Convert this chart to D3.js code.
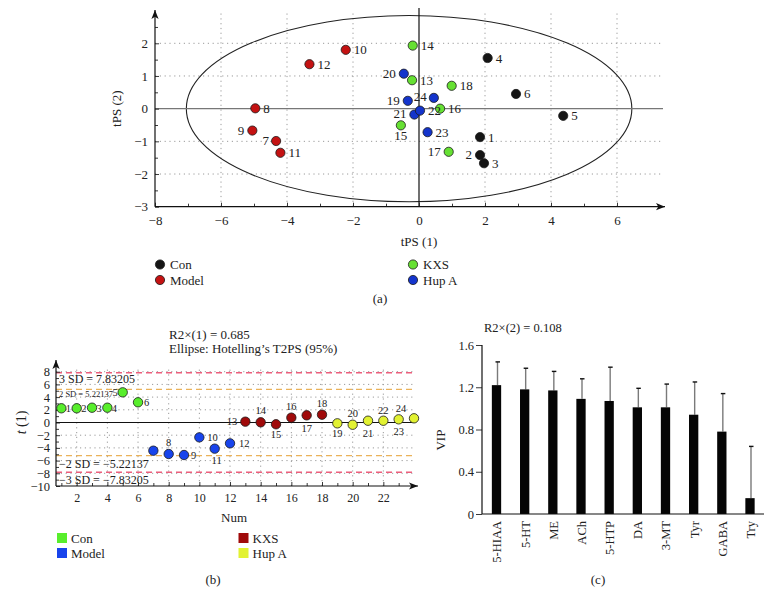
<!DOCTYPE html>
<html><head><meta charset="utf-8">
<script src="https://cdn.jsdelivr.net/npm/d3@7/dist/d3.min.js"></script>
<style>
body{margin:0;background:#fff}
text{font-family:'Liberation Serif','Times New Roman',serif;fill:#222}
</style>
</head><body>
<svg id="c" width="772" height="606"></svg>
<script>
// ---------- DATA ----------
const sampleIds = d3.range(1, 25);
const groupNames = ["Con", "Model", "KXS", "Hup A"];
// panel (a): PLS scores
const tps1 = [1.85, 1.85, 1.97, 2.08, 4.37, 2.94, -4.33, -4.96, -5.05, -2.22, -4.20, -3.32,
              -0.21, -0.19, -0.55, 0.64, 0.90, 0.99, -0.34, -0.46, -0.14, 0.03, 0.26, 0.45];
const tps2 = [-0.87, -1.42, -1.67, 1.55, -0.22, 0.45, -0.99, 0.01, -0.67, 1.80, -1.35, 1.36,
              0.87, 1.93, -0.51, 0.00, -1.32, 0.70, 0.24, 1.07, -0.18, -0.06, -0.72, 0.33];
const aXTicks = [-8, -6, -4, -2, 0, 2, 4, 6];
const aYTicks = [-3, -2, -1, 0, 1, 2];
// panel (b): t(1) by sample number
const t1 = [2.24, 2.24, 2.33, 2.33, 4.75, 3.18, -4.44, -4.96, -5.12, -2.34, -4.12, -3.28,
            0.13, 0.03, -0.28, 0.76, 1.13, 1.23, -0.13, -0.35, 0.28, 0.28, 0.50, 0.66];
const bXTicks = [2, 4, 6, 8, 10, 12, 14, 16, 18, 20, 22];
const bYTicks = [-10, -8, -6, -4, -2, 0, 2, 4, 6, 8];
const sdValues = [7.83205, 5.22137, -5.22137, -7.83205];
const sdLabels = ["3 SD = 7.83205", "2 SD = 5.22137", "\u22122 SD = \u22125.22137", "\u22123 SD = \u22127.83205"];
const bTitle = ["R2\u00d7(1) = 0.685", "Ellipse: Hotelling\u2019s T2PS (95%)"];
// panel (c): VIP
const vipCats = ["5-HIAA", "5-HT", "ME", "ACh", "5-HTP", "DA", "3-MT", "Tyr", "GABA", "Try"];
const vipVals = [1.22, 1.18, 1.17, 1.09, 1.07, 1.01, 1.01, 0.94, 0.78, 0.15];
const vipUpper = [1.44, 1.38, 1.35, 1.28, 1.39, 1.19, 1.23, 1.25, 1.14, 0.64];
const cYTicks = [0, 0.4, 0.8, 1.2, 1.6];
const cTitle = "R2\u00d7(2) = 0.108";

// ---------- STYLE ----------
const colA = ["#151515", "#c41212", "#66e033", "#1434cc"];
const colB = ["#58ee2c", "#1844ec", "#a00a0a", "#e2f232"];
const FONT = "'Liberation Serif','Times New Roman',serif";
const grp = id => Math.floor((id - 1) / 6);

const svg = d3.select("#c");
svg.append("rect").attr("width", 772).attr("height", 606).attr("fill", "#fff");
const defs = svg.append("defs");
defs.append("marker").attr("id", "arr").attr("viewBox", "0 0 10 10")
  .attr("refX", 10).attr("refY", 5).attr("markerWidth", 9).attr("markerHeight", 9)
  .attr("markerUnits", "userSpaceOnUse").attr("orient", "auto")
  .append("path").attr("d", "M0,1 L10,5 L0,9 L2.5,5 Z").attr("fill", "#111");

function styleAxis(g, size) {
  g.attr("font-family", FONT).attr("font-size", size);
  g.select(".domain").remove();
  g.selectAll(".tick line").attr("stroke", "#222").attr("stroke-width", 0.9);
  g.selectAll(".tick text").attr("fill", "#222");
}
const dotted = sel => sel.attr("stroke", "#9a9a9a").attr("stroke-width", 1).attr("stroke-dasharray", "1.2,3.6");

// ================= PANEL A =================
const ax = d3.scaleLinear().domain([-8, 6]).range([155, 617]);
const ay = d3.scaleLinear().domain([-3, 2]).range([206.7, 43.3]);
const A = svg.append("g");
[-6, -4, -2, 2, 4, 6].forEach(v => A.append("line").attr("x1", ax(v)).attr("x2", ax(v)).attr("y1", ay(-3)).attr("y2", 10).call(dotted));
[-2, -1, 1, 2].forEach(v => A.append("line").attr("x1", ax(-8)).attr("x2", 663).attr("y1", ay(v)).attr("y2", ay(v)).call(dotted));
A.append("ellipse").attr("cx", ax(-0.3)).attr("cy", ay(0))
  .attr("rx", ax(6.45) - ax(-0.3)).attr("ry", ay(0) - ay(2.85))
  .attr("fill", "none").attr("stroke", "#222").attr("stroke-width", 1.1);
A.append("line").attr("x1", ax(-8)).attr("x2", 663).attr("y1", ay(0)).attr("y2", ay(0)).attr("stroke", "#777").attr("stroke-width", 1.3);
A.append("line").attr("x1", ax(0)).attr("x2", ax(0)).attr("y1", ay(-3)).attr("y2", 8).attr("stroke", "#111").attr("stroke-width", 1.2);
A.append("g").attr("transform", `translate(0,${ay(-3)})`)
  .call(d3.axisBottom(ax).tickValues(aXTicks).tickSize(-4).tickPadding(9).tickFormat(d3.format("d"))).call(g => styleAxis(g, 13));
A.append("g").attr("transform", `translate(0,${ay(-3)})`)
  .call(d3.axisBottom(ax).tickValues([-7, -5, -3, -1, 1, 3, 5]).tickSize(-3).tickFormat("")).call(g => styleAxis(g, 13));
A.append("g").attr("transform", `translate(${ax(-8)},0)`)
  .call(d3.axisLeft(ay).tickValues(aYTicks).tickSize(-4).tickPadding(7).tickFormat(d3.format("d"))).call(g => styleAxis(g, 13));
A.append("g").attr("transform", `translate(${ax(-8)},0)`)
  .call(d3.axisLeft(ay).tickValues([-2.5, -1.5, -0.5, 0.5, 1.5, 2.5]).tickSize(-3).tickFormat("")).call(g => styleAxis(g, 13));
A.append("line").attr("x1", ax(-8)).attr("x2", ax(-8)).attr("y1", ay(-3)).attr("y2", 10).attr("stroke", "#111").attr("stroke-width", 1.2).attr("marker-end", "url(#arr)");
A.append("line").attr("x1", ax(-8)).attr("x2", 665).attr("y1", ay(-3)).attr("y2", ay(-3)).attr("stroke", "#111").attr("stroke-width", 1.2).attr("marker-end", "url(#arr)");
A.append("text").attr("x", ax(0)).attr("y", 246).attr("text-anchor", "middle").attr("font-size", 13).text("tPS (1)");
A.append("text").attr("transform", `translate(121,${ay(0)}) rotate(-90)`).attr("text-anchor", "middle").attr("font-size", 13).text("tPS (2)");
const aLab = {2: [-8, 4, "end"], 7: [-7, 4, "end"], 9: [-8, 4, "end"], 17: [-8, 4, "end"], 19: [-8, 4, "end"], 20: [-8, 4, "end"],
  21: [-8, 3, "end"], 24: [-7, 3, "end"], 15: [0, 15, "middle"]};
const aPts = A.append("g");
sampleIds.forEach((id, i) => {
  aPts.append("circle").attr("cx", ax(tps1[i])).attr("cy", ay(tps2[i])).attr("r", 4.6)
    .attr("fill", colA[grp(id)]).attr("stroke", "#1a1a1a").attr("stroke-width", 0.8);
});
sampleIds.forEach((id, i) => {
  const l = aLab[id] || [8, 4.5, "start"];
  aPts.append("text").attr("x", ax(tps1[i]) + l[0]).attr("y", ay(tps2[i]) + l[1]).attr("text-anchor", l[2])
    .attr("font-size", 13).text(id);
});
const legAPos = [[160, 264.5], [160, 280], [413, 264.5], [413, 280]];
groupNames.forEach((g, k) => {
  A.append("circle").attr("cx", legAPos[k][0]).attr("cy", legAPos[k][1]).attr("r", 4.6).attr("fill", colA[k]).attr("stroke", "#1a1a1a").attr("stroke-width", 0.8);
  A.append("text").attr("x", legAPos[k][0] + 10).attr("y", legAPos[k][1] + 4.5).attr("font-size", 13).text(g);
});
A.append("text").attr("x", 380).attr("y", 303).attr("text-anchor", "middle").attr("font-size", 13).text("(a)");

// ================= PANEL B =================
const bx = d3.scaleLinear().domain([0.65, 24]).range([56, 414]);
const by = d3.scaleLinear().domain([-10, 8]).range([486, 371.7]);
const B = svg.append("g");
bXTicks.forEach(v => B.append("line").attr("x1", bx(v)).attr("x2", bx(v)).attr("y1", by(-10)).attr("y2", 366).call(dotted));
[-8, -6, -4, -2, 2, 4, 6, 8].forEach(v => B.append("line").attr("x1", bx(0.65)).attr("x2", 414).attr("y1", by(v)).attr("y2", by(v)).call(dotted));
const sdCol = ["#ec5f7c", "#eab25a", "#eab25a", "#ec5f7c"];
sdValues.forEach((v, k) => B.append("line").attr("x1", bx(0.65)).attr("x2", 416).attr("y1", by(v)).attr("y2", by(v))
  .attr("stroke", sdCol[k]).attr("stroke-width", 1.3).attr("stroke-dasharray", "6,4"));
const sdFont = [12, 8.5, 12, 12];
const sdDy = [10, 8, 12.5, 11.5];
sdValues.forEach((v, k) => B.append("text").attr("x", 59).attr("y", by(v) + sdDy[k]).attr("font-size", sdFont[k]).text(sdLabels[k]));
B.append("line").attr("x1", bx(0.65)).attr("x2", 414).attr("y1", by(0)).attr("y2", by(0)).attr("stroke", "#111").attr("stroke-width", 1.2);
B.append("g").attr("transform", `translate(0,${by(-10)})`)
  .call(d3.axisBottom(bx).tickValues(bXTicks).tickSize(-4).tickPadding(7).tickFormat(d3.format("d"))).call(g => styleAxis(g, 12));
B.append("g").attr("transform", `translate(0,${by(-10)})`)
  .call(d3.axisBottom(bx).tickValues(d3.range(1, 24, 2)).tickSize(-3).tickFormat("")).call(g => styleAxis(g, 12));
B.append("g").attr("transform", `translate(${bx(0.65)},0)`)
  .call(d3.axisLeft(by).tickValues(bYTicks).tickSize(-4).tickPadding(6).tickFormat(d3.format("d"))).call(g => styleAxis(g, 12.5));
B.append("g").attr("transform", `translate(${bx(0.65)},0)`)
  .call(d3.axisLeft(by).tickValues(d3.range(-9, 8, 2)).tickSize(-3).tickFormat("")).call(g => styleAxis(g, 12));
B.append("line").attr("x1", bx(0.65)).attr("x2", bx(0.65)).attr("y1", by(-10)).attr("y2", 360).attr("stroke", "#111").attr("stroke-width", 1.2).attr("marker-end", "url(#arr)");
B.append("line").attr("x1", bx(0.65)).attr("x2", 418).attr("y1", by(-10)).attr("y2", by(-10)).attr("stroke", "#111").attr("stroke-width", 1.2).attr("marker-end", "url(#arr)");
bTitle.forEach((t, k) => B.append("text").attr("x", 169).attr("y", 339 + k * 14).attr("font-size", 13).text(t));
B.append("text").attr("x", 234).attr("y", 522).attr("text-anchor", "middle").attr("font-size", 13).text("Num");
B.append("text").attr("transform", `translate(26,${by(0)}) rotate(-90)`).attr("text-anchor", "middle").attr("font-size", 14)
  .html('<tspan font-style="italic">t</tspan> (1)');
const bLab = {1: [4.5, 4, "start"], 2: [4.5, 4, "start"], 3: [4.5, 4, "start"], 4: [4.5, 4, "start"], 5: [-5, 4, "end"], 6: [6, 4, "start"],
  8: [0, -8, "middle"], 9: [7, 4, "start"], 10: [8, 4, "start"], 11: [2, 15, "middle"], 12: [9, 4, "start"], 13: [-8, 3, "end"],
  14: [0, -8, "middle"], 15: [0, 14, "middle"], 16: [0, -8, "middle"], 17: [0, 17, "middle"], 18: [0, -8, "middle"],
  19: [0, 14, "middle"], 20: [0, -8, "middle"], 21: [0, 16, "middle"], 22: [0, -7, "middle"], 23: [0, 16, "middle"], 24: [-13, -6, "middle"]};
const bPts = B.append("g");
sampleIds.forEach((id, i) => bPts.append("circle").attr("cx", bx(id)).attr("cy", by(t1[i])).attr("r", 4.7)
  .attr("fill", colB[grp(id)]).attr("stroke", "#1a1a1a").attr("stroke-width", 0.8));
sampleIds.forEach((id, i) => {
  const l = bLab[id]; if (!l) return;
  bPts.append("text").attr("x", bx(id) + l[0]).attr("y", by(t1[i]) + l[1]).attr("text-anchor", l[2]).attr("font-size", 10.5).text(id);
});
const legBPos = [[57, 533], [57, 548], [238.5, 533], [238.5, 548]];
groupNames.forEach((g, k) => {
  B.append("rect").attr("x", legBPos[k][0]).attr("y", legBPos[k][1]).attr("width", 10).attr("height", 10).attr("fill", colB[k]);
  B.append("text").attr("x", legBPos[k][0] + 14).attr("y", legBPos[k][1] + 9.5).attr("font-size", 13).text(g);
});
B.append("text").attr("x", 213).attr("y", 584).attr("text-anchor", "middle").attr("font-size", 13).text("(b)");

// ================= PANEL C =================
const cx = d3.scalePoint().domain(vipCats).range([496.5, 750]);
const cy = d3.scaleLinear().domain([0, 1.6]).range([514, 345]);
const C = svg.append("g");
C.append("g").attr("transform", "translate(482,0)")
  .call(d3.axisLeft(cy).tickValues(cYTicks).tickSize(6).tickPadding(2).tickFormat(d => d === 0 ? "0" : d3.format(".1f")(d)))
  .call(g => styleAxis(g, 12.5));
C.append("line").attr("x1", 482).attr("x2", 482).attr("y1", cy(0)).attr("y2", cy(1.6)).attr("stroke", "#111").attr("stroke-width", 1.2);
const barW = 9.3;
vipCats.forEach((c, i) => {
  const ex = cx(c) + 1;
  C.append("line").attr("x1", ex).attr("x2", ex).attr("y1", cy(vipVals[i])).attr("y2", cy(vipUpper[i])).attr("stroke", "#7a7a7a").attr("stroke-width", 1.4);
  C.append("line").attr("x1", ex - 2).attr("x2", ex + 2.5).attr("y1", cy(vipUpper[i])).attr("y2", cy(vipUpper[i])).attr("stroke", "#111").attr("stroke-width", 1.4);
  C.append("rect").attr("x", cx(c) - barW / 2).attr("y", cy(vipVals[i])).attr("width", barW).attr("height", cy(0) - cy(vipVals[i])).attr("fill", "#050505");
});
C.append("line").attr("x1", 482).attr("x2", 764).attr("y1", cy(0)).attr("y2", cy(0)).attr("stroke", "#111").attr("stroke-width", 1.2);
C.append("g").attr("transform", `translate(0,${cy(0)})`)
  .call(d3.axisBottom(cx).tickSize(0).tickPadding(0))
  .call(g => { styleAxis(g, 12.5); g.selectAll(".tick text").attr("transform", "rotate(-90)").attr("text-anchor", "end").attr("x", -7).attr("y", 0).attr("dy", "0.35em"); });
C.append("text").attr("x", 484).attr("y", 332).attr("font-size", 12.5).text(cTitle);
C.append("text").attr("transform", `translate(445,${cy(0.7)}) rotate(-90)`).attr("text-anchor", "middle").attr("font-size", 13).text("VIP");
C.append("text").attr("x", 598).attr("y", 584).attr("text-anchor", "middle").attr("font-size", 13).text("(c)");
</script>
</body></html>
